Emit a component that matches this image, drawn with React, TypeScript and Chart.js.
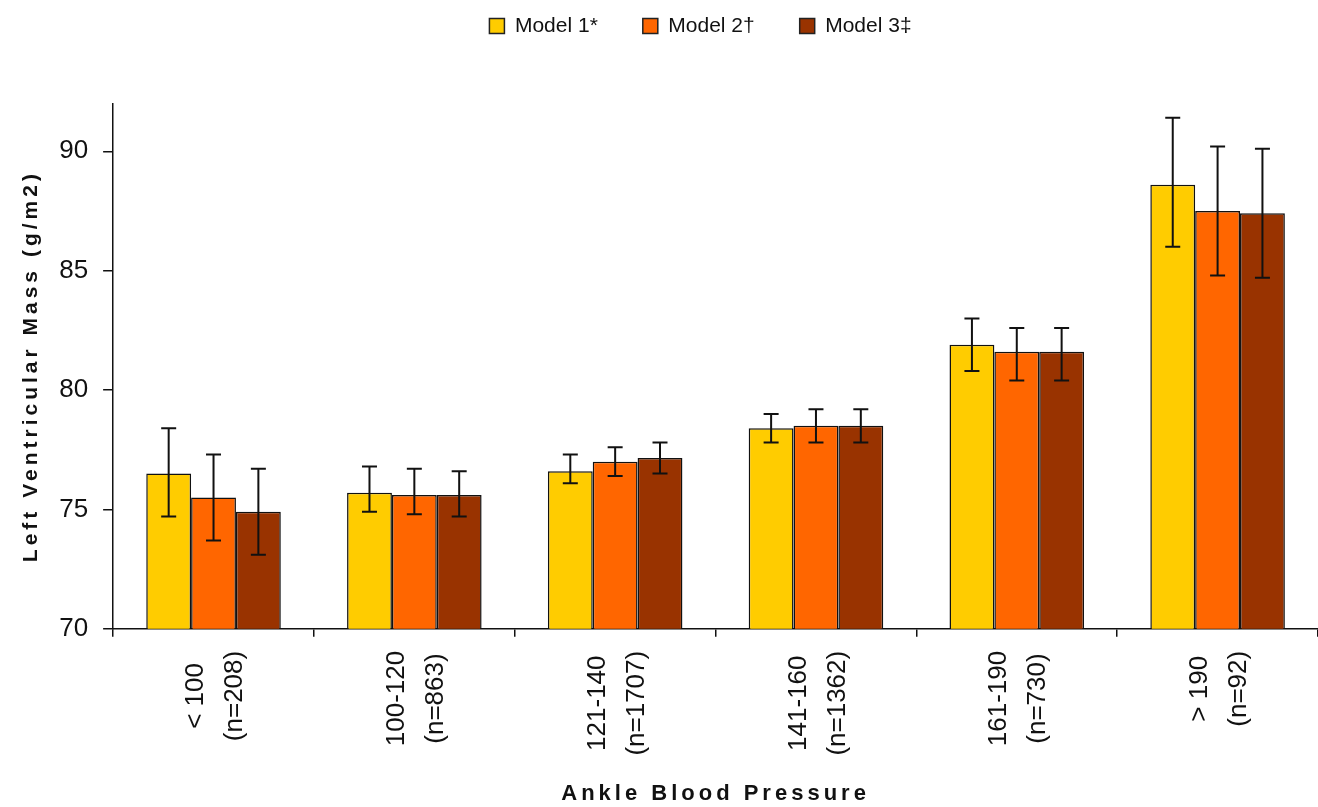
import React, { useEffect, useRef } from "react";
import { Chart, registerables } from "chart.js";

Chart.register(...registerables);

const categories: string[][] = [
  ["< 100", "(n=208)"],
  ["100-120", "(n=863)"],
  ["121-140", "(n=1707)"],
  ["141-160", "(n=1362)"],
  ["161-190", "(n=730)"],
  ["> 190", "(n=92)"],
];

const seriesNames = ["Model 1*", "Model 2\u2020", "Model 3\u2021"];
const seriesColors = ["#FFCC00", "#FF6600", "#993300"];

const model1 = [76.5, 75.7, 76.6, 78.4, 81.9, 88.6];
const model1Low = [74.7, 74.9, 76.1, 77.8, 80.8, 86.0];
const model1High = [78.4, 76.8, 77.3, 79.0, 83.0, 91.4];

const model2 = [75.5, 75.6, 77.0, 78.5, 81.6, 87.5];
const model2Low = [73.7, 74.8, 76.4, 77.8, 80.4, 84.8];
const model2High = [77.3, 76.7, 77.6, 79.2, 82.6, 90.2];

const model3 = [74.9, 75.6, 77.15, 78.5, 81.6, 87.4];
const model3Low = [73.1, 74.7, 76.5, 77.8, 80.4, 84.7];
const model3High = [76.7, 76.6, 77.8, 79.2, 82.6, 90.1];

const yTicks = [70, 75, 80, 85, 90];

const values = [model1, model2, model3];
const lows = [model1Low, model2Low, model3Low];
const highs = [model1High, model2High, model3High];

const FONT = "'Liberation Sans', Arial, sans-serif";

const errorBarPlugin = {
  id: "errorBars",
  afterDatasetsDraw(chart: any) {
    const ctx = chart.ctx;
    const y = chart.scales.y;
    ctx.save();
    ctx.strokeStyle = "#111";
    ctx.lineWidth = 2;
    chart.data.datasets.forEach((_ds: any, i: number) => {
      const meta = chart.getDatasetMeta(i);
      meta.data.forEach((bar: any, j: number) => {
        const x = bar.x;
        const yh = y.getPixelForValue(highs[i][j]);
        const yl = y.getPixelForValue(lows[i][j]);
        const cap = 7.5;
        ctx.beginPath();
        ctx.moveTo(x, yh);
        ctx.lineTo(x, yl);
        ctx.moveTo(x - cap, yh);
        ctx.lineTo(x + cap, yh);
        ctx.moveTo(x - cap, yl);
        ctx.lineTo(x + cap, yl);
        ctx.stroke();
      });
    });
    ctx.restore();
  },
};

const legendSpacer = {
  id: "legendSpacer",
  beforeInit(chart: any) {
    const legend = chart.legend;
    if (!legend) return;
    const origFit = legend.fit;
    legend.fit = function () {
      origFit.call(this);
      this.height += 57;
    };
  },
  afterLayout(chart: any) {
    const legend = chart.legend;
    if (!legend) return;
    // centre the legend over the plot area rather than the whole canvas
    legend.left += 37;
    legend.right += 37;
  },
};

// Centre the lines of each rotated x label on one another and on the tick,
// and give the axis titles the spaced lettering of the original.
const labelStyler = {
  id: "labelStyler",
  beforeDraw(chart: any) {
    const ctx = chart.ctx;
    ["x", "y"].forEach((id) => {
      const s = chart.scales[id];
      if (s && !s.__spaced) {
        const orig = s.drawTitle.bind(s);
        s.drawTitle = function () {
          const c = this.ctx;
          c.save();
          c.letterSpacing = "4px";
          orig();
          c.restore();
        };
        s.__spaced = true;
      }
    });
    const xs = chart.scales.x;
    const items = xs.getLabelItems(chart.chartArea);
    items.forEach((item: any) => {
      if (item.__centered) return;
      const lines: string[] = Array.isArray(item.label) ? item.label : [item.label];
      ctx.save();
      ctx.font = item.font.string;
      let maxW = 0;
      lines.forEach((l) => {
        maxW = Math.max(maxW, ctx.measureText(l).width);
      });
      ctx.restore();
      const lh = item.font.lineHeight;
      const [tx, ty] = item.options.translation;
      item.options.translation = [tx - ((lines.length - 1) * lh) / 2 + 2, ty + maxW / 2];
      item.options.textAlign = "center";
      item.__centered = true;
    });
  },
};

export default function App() {
  const canvasRef = useRef<HTMLCanvasElement | null>(null);

  useEffect(() => {
    if (!canvasRef.current) return;
    const chart = new Chart(canvasRef.current, {
      type: "bar",
      data: {
        labels: categories,
        datasets: values.map((v, i) => ({
          label: seriesNames[i],
          data: v,
          backgroundColor: seriesColors[i],
          borderColor: "#111",
          borderWidth: 1.5,
          barPercentage: 1,
          categoryPercentage: 0.67,
        })),
      },
      options: {
        animation: false,
        responsive: true,
        maintainAspectRatio: false,
        layout: { padding: { left: 9, right: 0, top: -29.5, bottom: 0 } },
        plugins: {
          tooltip: { enabled: false },
          legend: {
            position: "top",
            labels: {
              color: "#111",
              font: { family: FONT, size: 21 },
              boxWidth: 15,
              boxHeight: 15,
              padding: 45,
              generateLabels(chart: any) {
                return chart.data.datasets.map((ds: any, i: number) => ({
                  text: ds.label,
                  fillStyle: ds.backgroundColor,
                  strokeStyle: "#222",
                  lineWidth: 1.5,
                  hidden: false,
                  datasetIndex: i,
                  fontColor: "#111",
                }));
              },
            },
          },
        },
        scales: {
          x: {
            grid: {
              display: true,
              drawOnChartArea: false,
              drawTicks: true,
              tickLength: 8,
              color: "#111",
              lineWidth: 1.5,
              offset: true,
            },
            border: { display: true, color: "#111", width: 1.5 },
            ticks: {
              autoSkip: false,
              maxRotation: 90,
              minRotation: 90,
              color: "#111",
              padding: 14,
              font: { family: FONT, size: 26, lineHeight: 1.5 },
            },
            title: {
              display: true,
              text: "Ankle Blood Pressure",
              color: "#111",
              font: { family: FONT, size: 22, weight: "bold" },
              padding: { top: 11, bottom: 0 },
            },
          },
          y: {
            min: 70,
            max: 92,
            afterBuildTicks(scale: any) {
              scale.ticks = yTicks.map((v) => ({ value: v }));
            },
            grid: {
              display: true,
              drawOnChartArea: false,
              drawTicks: true,
              tickLength: 10,
              color: "#111",
              lineWidth: 1.5,
            },
            border: { display: true, color: "#111", width: 1.5 },
            ticks: {
              color: "#111",
              padding: 15,
              font: { family: FONT, size: 26 },
            },
            title: {
              display: true,
              text: "Left Ventricular Mass (g/m2)",
              color: "#111",
              font: { family: FONT, size: 21, weight: "bold" },
              padding: { top: 10, bottom: 0 },
            },
          },
        },
      },
      plugins: [errorBarPlugin, legendSpacer, labelStyler],
    });
    return () => chart.destroy();
  }, []);

  return (
    <div
      style={{
        position: "fixed",
        left: 0,
        top: 0,
        width: 1318,
        height: 807,
        background: "#fff",
      }}
    >
      <canvas ref={canvasRef} />
    </div>
  );
}
